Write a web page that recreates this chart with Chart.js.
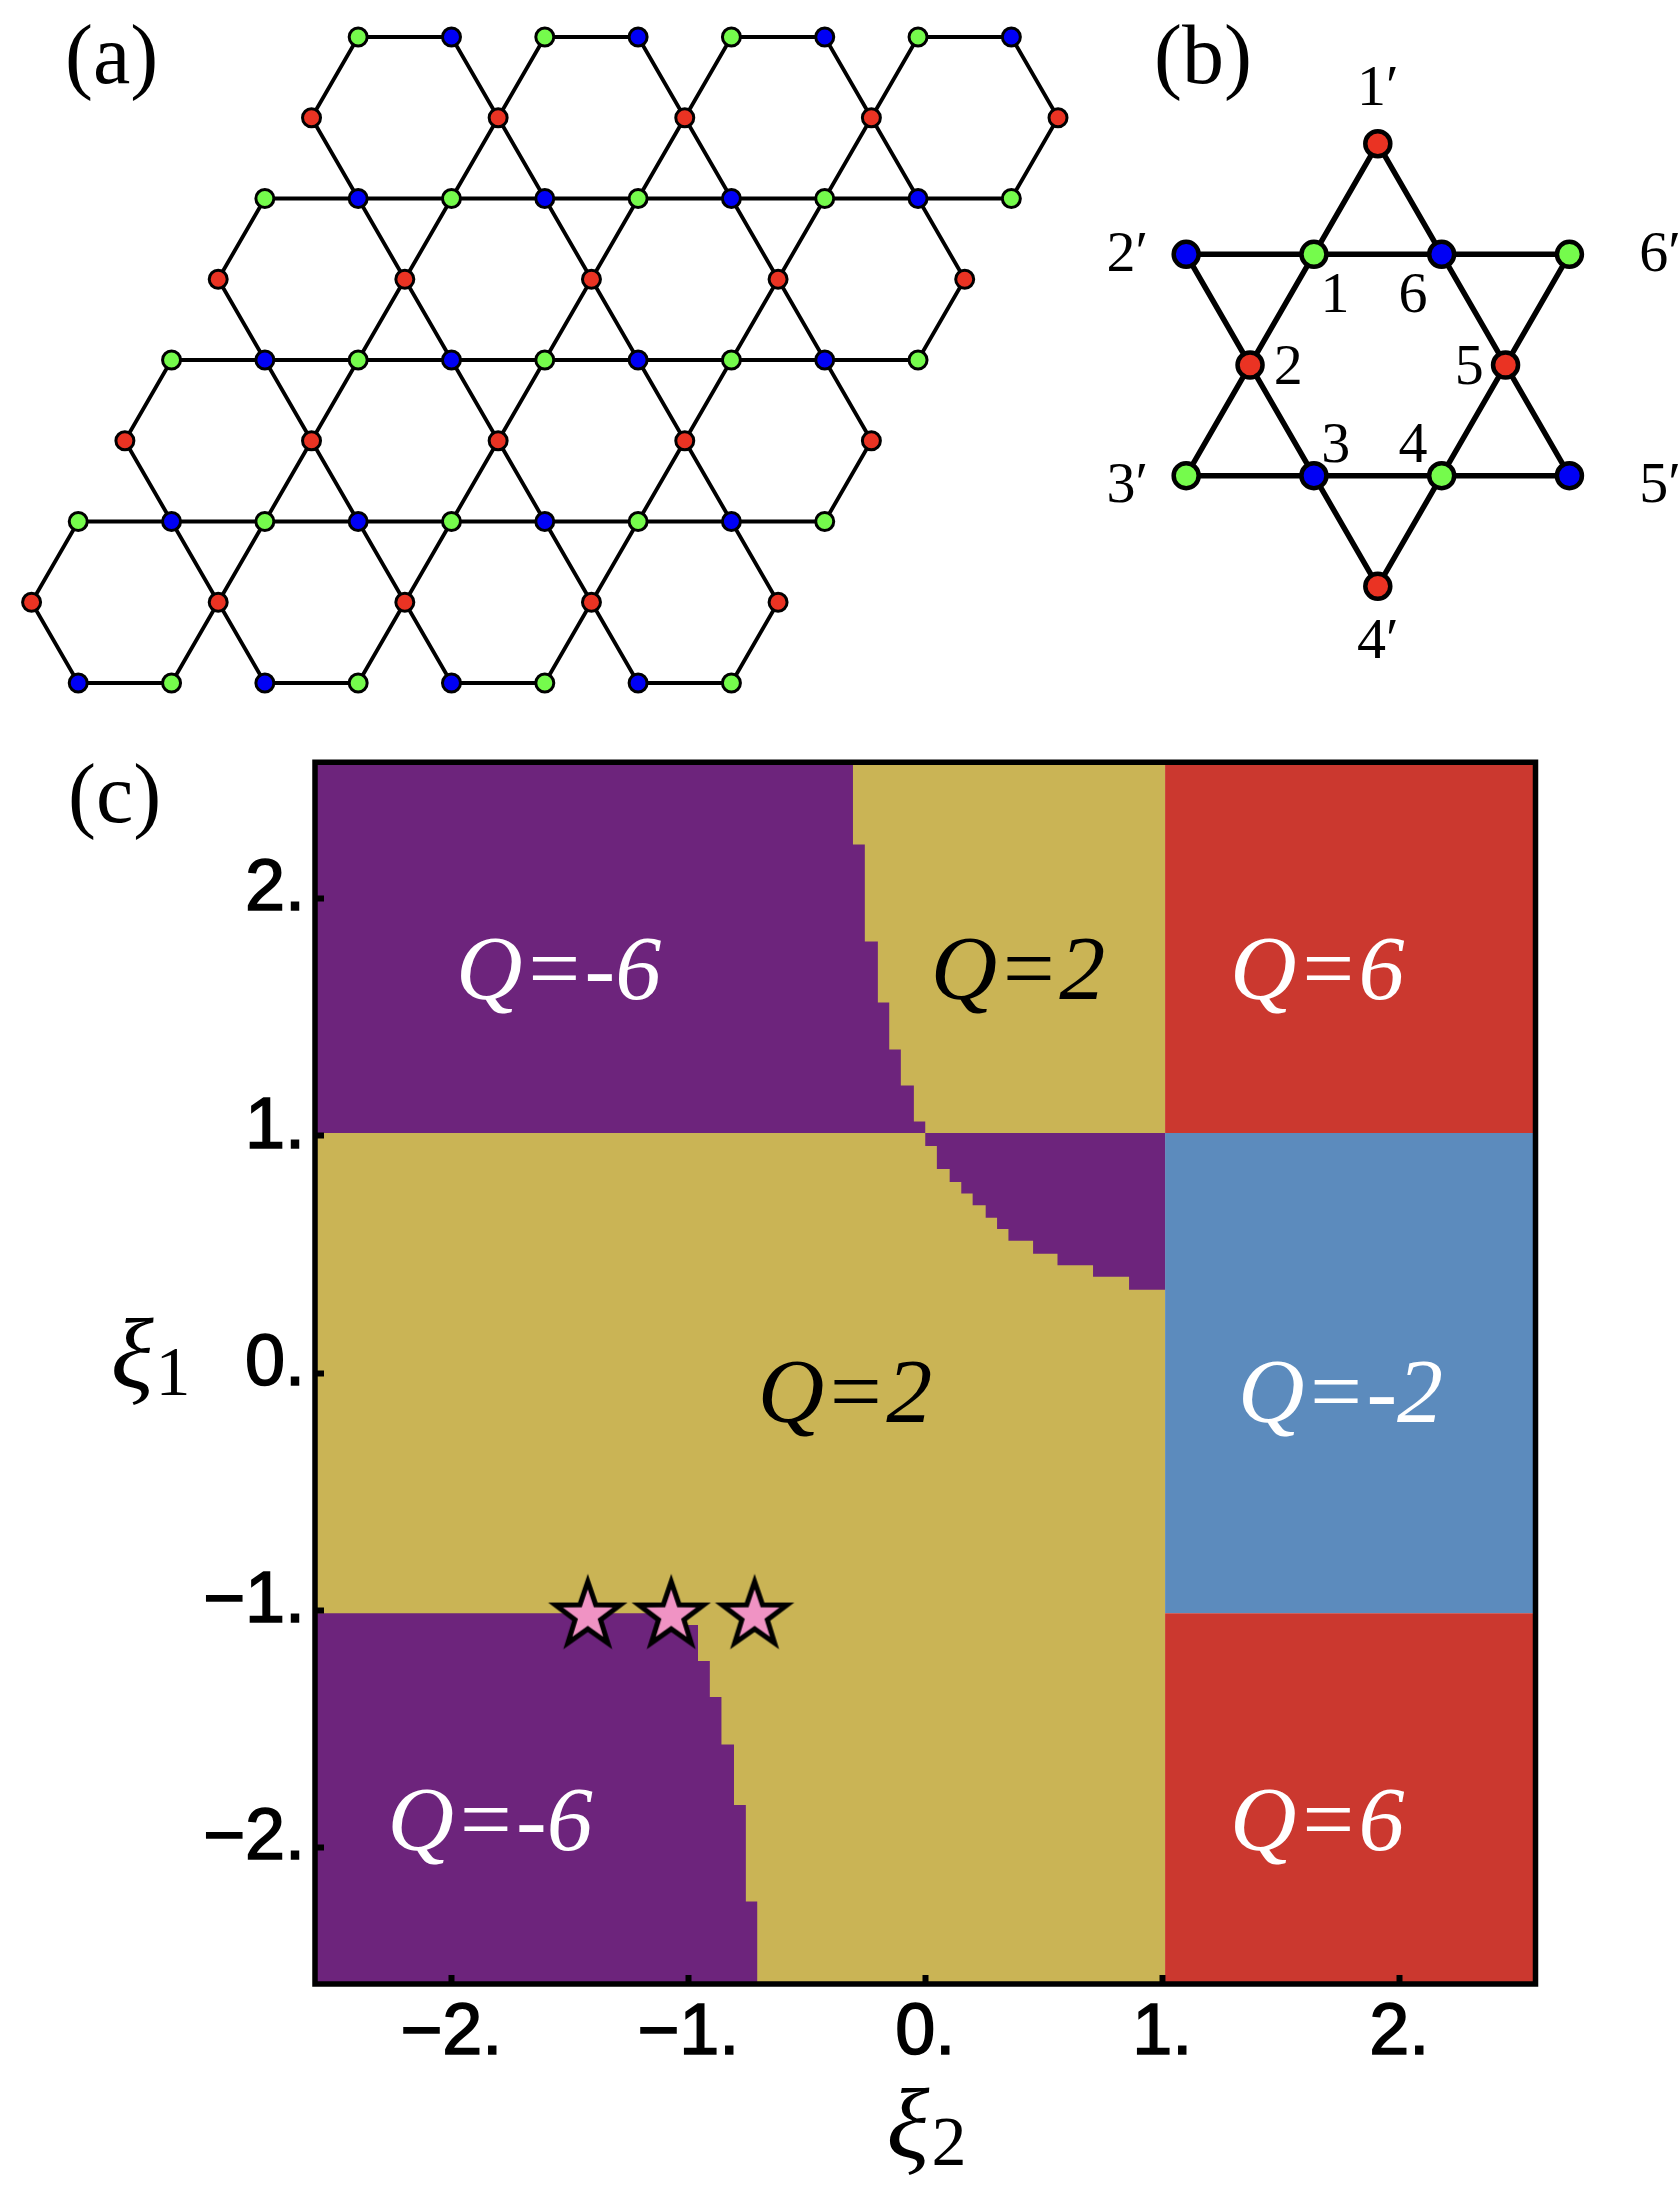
<!DOCTYPE html>
<html lang="en">
<head>
  <title>Kagome lattice phase diagram</title>
  <script src="https://cdn.jsdelivr.net/npm/chart.js"></script>
  <style>
    body { margin: 0; background: #fff; width: 1680px; height: 2190px; position: relative; overflow: hidden; }
    canvas { position: absolute; display: block; }
    #latticeChart { left: 0; top: 0; }
    #starChart { left: 1100px; top: 0; }
    #phaseChart { left: 0; top: 700px; }
    .panel { position: absolute; font: 84px "Liberation Serif", serif; line-height: 84px; color: #000; }
  </style>
</head>
<body>
  <canvas id="latticeChart" width="1100" height="720"></canvas>
  <canvas id="starChart" width="580" height="720"></canvas>
  <canvas id="phaseChart" width="1680" height="1490"></canvas>
  <div class="panel" style="left:65px;top:13px">(a)</div>
  <div class="panel" style="left:1154px;top:13px">(b)</div>
  <div class="panel" style="left:68px;top:752px">(c)</div>
  <script>
    // (a) lattice, columns are half bond lengths, rows are half hexagon heights
    const redRows = [1, 3, 5, 7];
    const redCols = [[6, 10, 14, 18, 22], [4, 8, 12, 16, 20], [2, 6, 10, 14, 18], [0, 4, 8, 12, 16]];
    const mixedRows = [0, 2, 4, 6, 8];
    const greenCols = [[7, 11, 15, 19], [5, 9, 13, 17, 21], [3, 7, 11, 15, 19], [1, 5, 9, 13, 17], [3, 7, 11, 15]];
    const blueCols = [[9, 13, 17, 21], [7, 11, 15, 19], [5, 9, 13, 17], [3, 7, 11, 15], [1, 5, 9, 13]];
    const colours = { red: '#EA3323', green: '#75FB4C', blue: '#0000F5' };

    // (b) star of David
    const starRedX = [0, -2, 2, 0];
    const starRedY = [0, 2, 2, 4];
    const starGreenX = [-1, 3, -3, 1];
    const starGreenY = [1, 1, 3, 3];
    const starBlueX = [-3, 1, -1, 3];
    const starBlueY = [1, 1, 3, 3];
    const upTriangleX = [0, -3, 3, 0];
    const upTriangleY = [0, 3, 3, 0];
    const downTriangleX = [-3, 3, 0, -3];
    const downTriangleY = [1, 1, 4, 1];
    const starLabels = ["1\u2032", "2\u2032", "3\u2032", "4\u2032", "5\u2032", "6\u2032", "1", "2", "3", "4", "5", "6"];
    const starLabelX = [0, -3.92, -3.92, 0, 4.42, 4.42, -0.67, -1.40, -0.66, 0.55, 1.43, 0.55];
    const starLabelY = [-0.49, 1.01, 3.10, 4.51, 3.10, 1.01, 1.38, 2.03, 2.74, 2.74, 2.03, 1.38];

    // (c) phase diagram
    const axisMin = -2.575;
    const axisMax = 2.575;
    const edge = 1.012;
    const tickValues = [-2, -1, 0, 1, 2];
    const tickLabels = ["\u22122.", "\u22121.", "0.", "1.", "2."];
    // purple top left, right edge of each step and the y where it ends
    const topStepX = [-0.305, -0.255, -0.200, -0.152, -0.103, -0.048, 0.0];
    const topStepY = [2.228, 1.819, 1.562, 1.364, 1.212, 1.060, 1.012];
    // purple middle, x edges of the steps and the lower y of each step
    const midStepX = [0.0, 0.049, 0.103, 0.152, 0.200, 0.255, 0.303, 0.351, 0.455, 0.558, 0.708, 0.860, 1.012];
    const midStepY = [0.957, 0.860, 0.805, 0.757, 0.708, 0.655, 0.607, 0.558, 0.503, 0.455, 0.406, 0.351];
    // purple bottom left
    const lowStepX = [-1.008, -0.959, -0.909, -0.860, -0.807, -0.757, -0.709];
    const lowStepY = [-1.062, -1.214, -1.365, -1.566, -1.821, -2.227, -2.575];
    const markerX = [-1.424, -1.072, -0.720];
    const markerY = [-1.022, -1.022, -1.022];
    const phaseLabels = ["Q=-6", "Q=2", "Q=6", "Q=2", "Q=-2", "Q=-6", "Q=6"];
    const phaseLabelX = [-1.547, 0.391, 1.654, -0.339, 1.752, -1.836, 1.654];
    const phaseLabelY = [1.677, 1.677, 1.677, -0.105, -0.105, -1.91, -1.91];
    const phaseLabelColor = ['#fff', '#000', '#fff', '#000', '#fff', '#fff', '#fff'];
    const axisSymbols = ["\u03BE", "\u03BE"];
    const axisSymbolX = [-3.347, -0.073];
    const axisSymbolY = [0.053, -3.194];
    const axisIndexes = ["1", "2"];
    const axisIndexX = [-3.174, 0.100];
    const axisIndexY = [-0.014, -3.262];

    const PURPLE = '#6D247C';
    const YELLOW = '#CAB455';
    const RED = '#CB382F';
    const BLUE = '#5C8BBD';

    Chart.defaults.animation = false;
    Chart.defaults.responsive = false;
    Chart.defaults.layout.autoPadding = false;
    Chart.defaults.plugins.legend.display = false;
    Chart.defaults.plugins.tooltip.enabled = false;

    // draws text at data coordinates
    const textPlugin = {
      id: 'textLabels',
      afterDatasetsDraw(chart, args, opts) {
        if (!opts.groups) return;
        const ctx = chart.ctx;
        ctx.save();
        ctx.textAlign = 'center';
        ctx.textBaseline = 'middle';
        opts.groups.forEach((g) => {
          ctx.font = g.font;
          g.text.forEach((t, i) => {
            ctx.fillStyle = g.color ? g.color[i] : '#000';
            ctx.fillText(t, chart.scales.x.getPixelForValue(g.x[i]), chart.scales.y.getPixelForValue(g.y[i]));
          });
        });
        ctx.restore();
      }
    };
    Chart.register(textPlugin);

    function toPoints(xs, ys) {
      return xs.map((x, i) => ({ x: x, y: ys[i] }));
    }

    function nodeSet(xs, ys, colour, radius, border) {
      return {
        data: toPoints(xs, ys),
        showLine: false,
        pointRadius: radius,
        pointBorderWidth: border,
        pointBackgroundColor: colour,
        pointBorderColor: '#000',
        clip: false
      };
    }

    function hiddenAxis(min, max, reverse) {
      return { type: 'linear', display: false, min: min, max: max, reverse: reverse };
    }

    // ---- (a)
    let bonds = [];
    function addBond(x1, y1, x2, y2) {
      bonds.push({ x: x1, y: y1 }, { x: x2, y: y2 }, { x: null, y: null });
    }
    redRows.forEach((row, r) => {
      redCols[r].forEach((col, i) => {
        if (i > 0) { addBond(col, row, col - 1, row - 1); addBond(col, row, col - 1, row + 1); }
        if (i < redCols[r].length - 1) { addBond(col, row, col + 1, row - 1); addBond(col, row, col + 1, row + 1); }
      });
    });
    mixedRows.forEach((row, r) => {
      const cols = greenCols[r].concat(blueCols[r]).sort((a, b) => a - b);
      if (row === 0 || row === 8) {
        for (let i = 0; i < cols.length; i += 2) addBond(cols[i], row, cols[i + 1], row);
      } else {
        addBond(cols[0], row, cols[cols.length - 1], row);
      }
    });

    const latticeX = { red: [], green: [], blue: [] };
    const latticeY = { red: [], green: [], blue: [] };
    redRows.forEach((row, r) => redCols[r].forEach((c) => { latticeX.red.push(c); latticeY.red.push(row); }));
    mixedRows.forEach((row, r) => {
      greenCols[r].forEach((c) => { latticeX.green.push(c); latticeY.green.push(row); });
      blueCols[r].forEach((c) => { latticeX.blue.push(c); latticeY.blue.push(row); });
    });

    // datasets listed first are drawn on top
    new Chart(document.getElementById('latticeChart'), {
      type: 'scatter',
      data: {
        datasets: [
          nodeSet(latticeX.red, latticeY.red, colours.red, 9, 3),
          nodeSet(latticeX.green, latticeY.green, colours.green, 9, 3),
          nodeSet(latticeX.blue, latticeY.blue, colours.blue, 9, 3),
          { data: bonds, showLine: true, spanGaps: false, borderColor: '#000', borderWidth: 3.8, pointRadius: 0, clip: false }
        ]
      },
      options: {
        scales: { x: hiddenAxis(-0.677, 22.9), y: hiddenAxis(-0.458, 8.458, true) }
      }
    });

    // ---- (b)
    new Chart(document.getElementById('starChart'), {
      type: 'scatter',
      data: {
        datasets: [
          nodeSet(starRedX, starRedY, colours.red, 12.5, 4.5),
          nodeSet(starGreenX, starGreenY, colours.green, 12.5, 4.5),
          nodeSet(starBlueX, starBlueY, colours.blue, 12.5, 4.5),
          { data: toPoints(upTriangleX, upTriangleY), showLine: true, borderColor: '#000', borderWidth: 5.5, pointRadius: 0, clip: false },
          { data: toPoints(downTriangleX, downTriangleY), showLine: true, borderColor: '#000', borderWidth: 5.5, pointRadius: 0, clip: false }
        ]
      },
      options: {
        scales: { x: hiddenAxis(-4.349, 4.731), y: hiddenAxis(-1.2987, 5.208, true) },
        plugins: {
          textLabels: { groups: [{ font: '58px "Liberation Serif", serif', text: starLabels, x: starLabelX, y: starLabelY }] }
        }
      }
    });

    // ---- (c)
    function region(points, colour) {
      return { data: points, showLine: true, fill: 'shape', backgroundColor: colour, borderWidth: 0, pointRadius: 0 };
    }
    function box(x1, y1, x2, y2) {
      return [{ x: x1, y: y1 }, { x: x2, y: y1 }, { x: x2, y: y2 }, { x: x1, y: y2 }];
    }

    const topPurple = [{ x: axisMin, y: axisMax }];
    let lastY = axisMax;
    topStepX.forEach((x, i) => {
      topPurple.push({ x: x, y: lastY }, { x: x, y: topStepY[i] });
      lastY = topStepY[i];
    });
    topPurple.push({ x: axisMin, y: edge });

    const midPurple = [{ x: edge, y: edge }, { x: midStepX[0], y: edge }];
    midStepY.forEach((y, i) => {
      midPurple.push({ x: midStepX[i], y: y }, { x: midStepX[i + 1], y: y });
    });

    const lowPurple = [{ x: axisMin, y: -edge }];
    lastY = -edge;
    lowStepX.forEach((x, i) => {
      lowPurple.push({ x: x, y: lastY }, { x: x, y: lowStepY[i] });
      lastY = lowStepY[i];
    });
    lowPurple.push({ x: axisMin, y: axisMin });

    // filled star for the three markers
    const starMark = document.createElement('canvas');
    starMark.width = 100;
    starMark.height = 100;
    const sc = starMark.getContext('2d');
    sc.beginPath();
    for (let i = 0; i < 10; i++) {
      const r = i % 2 === 0 ? 34 : 13.4;
      const a = -Math.PI / 2 + i * Math.PI / 5;
      sc.lineTo(50 + r * Math.cos(a), 50 + r * Math.sin(a));
    }
    sc.closePath();
    sc.fillStyle = '#F093C4';
    sc.fill();
    sc.lineWidth = 5;
    sc.miterLimit = 10;
    sc.strokeStyle = '#000';
    sc.stroke();

    function axisOptions(fitKey, fitSize, padding, labelOffset) {
      return {
        type: 'linear',
        min: axisMin,
        max: axisMax,
        afterFit: (s) => { s[fitKey] = fitSize; },
        afterBuildTicks: (s) => { s.ticks = tickValues.map((v) => ({ value: v })); },
        border: { display: false },
        grid: { drawOnChartArea: false, tickLength: -9, tickWidth: 6, tickColor: '#000', z: 1 },
        ticks: {
          autoSkip: false,
          maxRotation: 0,
          padding: padding,
          labelOffset: labelOffset,
          color: '#000',
          textStrokeColor: '#000',
          textStrokeWidth: 1.6,
          font: { family: '"Liberation Sans", sans-serif', size: 72 },
          callback: (v) => tickLabels[tickValues.indexOf(v)]
        }
      };
    }

    new Chart(document.getElementById('phaseChart'), {
      type: 'scatter',
      data: {
        datasets: [
          { data: toPoints(markerX, markerY), showLine: false, pointStyle: starMark, pointRadius: 40, clip: false },
          {
            data: box(axisMin, axisMin, axisMax, axisMax).concat([{ x: axisMin, y: axisMin }]),
            showLine: true,
            borderColor: '#000',
            borderWidth: 5.5,
            borderCapStyle: 'square',
            borderJoinStyle: 'miter',
            pointRadius: 0,
            clip: false
          },
          region(lowPurple, PURPLE),
          region(midPurple, PURPLE),
          region(topPurple, PURPLE),
          region(box(edge, axisMin, axisMax, -edge), RED),
          region(box(edge, -edge, axisMax, edge), BLUE),
          region(box(edge, edge, axisMax, axisMax), RED),
          region(box(axisMin, axisMin, edge, axisMax), YELLOW)
        ]
      },
      options: {
        layout: { padding: { top: 58.5, right: 144.5 } },
        scales: {
          x: axisOptions('height', 206, 16, 0),
          y: axisOptions('width', 315, 19, -8)
        },
        plugins: {
          textLabels: {
            groups: [
              { font: 'italic 92px "Liberation Serif", serif', text: phaseLabels, x: phaseLabelX, y: phaseLabelY, color: phaseLabelColor },
              { font: 'italic 100px "Liberation Serif", serif', text: axisSymbols, x: axisSymbolX, y: axisSymbolY },
              { font: '70px "Liberation Serif", serif', text: axisIndexes, x: axisIndexX, y: axisIndexY }
            ]
          }
        }
      }
    });
  </script>
</body>
</html>
